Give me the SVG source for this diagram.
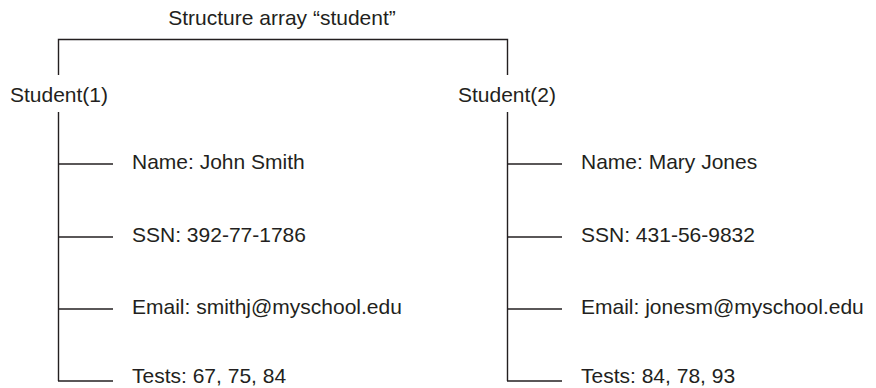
<svg xmlns="http://www.w3.org/2000/svg" width="876" height="388" viewBox="0 0 876 388">
<style>
text { font-family: "Liberation Sans", Arial, sans-serif; font-size: 21px; fill: #231f20; }
.c { text-anchor: middle; }
line, path { stroke: #231f20; stroke-width: 1.4; fill: none; }
</style>
<rect width="876" height="388" fill="#ffffff"/>
<g id="connectors">
<path d="M58.5,75 V39.5 H507.5 V75"/>
<path d="M58.5,112 V381"/>
<line x1="58.5" y1="164" x2="113" y2="164"/>
<line x1="58.5" y1="237" x2="113" y2="237"/>
<line x1="58.5" y1="309" x2="113" y2="309"/>
<line x1="58" y1="381" x2="113" y2="381"/>
<path d="M507.5,112 V381"/>
<line x1="507.5" y1="164" x2="562" y2="164"/>
<line x1="507.5" y1="237" x2="562" y2="237"/>
<line x1="507.5" y1="309" x2="562" y2="309"/>
<line x1="507" y1="381" x2="562" y2="381"/>
</g>
<g id="root"><text class="c" x="282" y="25">Structure array “student”</text></g>
<g id="student1"><text class="c" x="59" y="102">Student(1)</text></g>
<g id="student2"><text class="c" x="507" y="102">Student(2)</text></g>
<g id="s1-name"><text x="132" y="169">Name: John Smith</text></g>
<g id="s1-ssn"><text x="132" y="242">SSN: 392-77-1786</text></g>
<g id="s1-email"><text x="132" y="314">Email: smithj@myschool.edu</text></g>
<g id="s1-tests"><text x="132" y="383">Tests: 67, 75, 84</text></g>
<g id="s2-name"><text x="581" y="169">Name: Mary Jones</text></g>
<g id="s2-ssn"><text x="581" y="242">SSN: 431-56-9832</text></g>
<g id="s2-email"><text x="581" y="314">Email: jonesm@myschool.edu</text></g>
<g id="s2-tests"><text x="581" y="383">Tests: 84, 78, 93</text></g>
</svg>
